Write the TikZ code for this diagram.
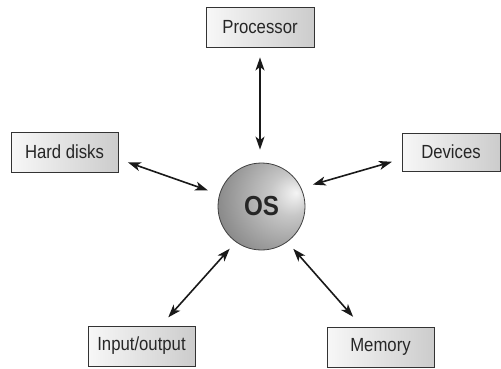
\documentclass[tikz,border=0pt]{standalone}
\usepackage{fontspec}
\setmainfont{Liberation Sans}[FakeStretch=0.88]
\usetikzlibrary{arrows.meta,calc}
\pgfdeclareradialshading{osball}{\pgfpoint{20bp}{8bp}}{%
  color(0bp)=(black!4);
  color(12bp)=(black!22);
  color(35bp)=(black!45);
  color(55bp)=(black!62);
  color(75bp)=(black!72)}
\begin{document}
\begin{tikzpicture}[x=1pt,y=1pt,
  box/.style={draw=black!80, line width=0.9pt, left color=black!3, right color=black!20,
    minimum width=107pt, minimum height=40pt, inner sep=0pt,
    font=\fontsize{19}{22}\selectfont, text=black!85},
  arr/.style={{Stealth[length=13pt,width=9pt,inset=3.5pt]}-{Stealth[length=13pt,width=9pt,inset=3.5pt]},
    line width=1.6pt, black!90}]
\useasboundingbox (0,0) rectangle (501,368);
\node[circle, draw=black!75, line width=0.8pt, shading=osball, minimum size=87pt, inner sep=0pt,
  font=\bfseries\fontsize{27.5}{30}\selectfont, text=black!85] (os) at (261.5,161.5) {OS};
\node[box, minimum width=108pt] (proc) at (260,341) {Processor};
\node[box] (hd) at (64.5,216) {Hard disks};
\node[box, minimum width=98pt, minimum height=38pt] (dev) at (451,216) {Devices};
\node[box] (io) at (141.5,22) {Input/output};
\node[box] (mem) at (380.5,21) {Memory};
\draw[arr, shorten <=10pt, shorten >=13pt] (proc.south) -- (proc.south |- os.north);
\draw[arr, shorten <=10pt, shorten >=12pt] ([yshift=-7pt]hd.east) -- (os.164);
\draw[arr, shorten <=10pt, shorten >=12pt] ([yshift=-7pt]dev.west) -- (os.25);
\draw[arr, shorten <=11pt, shorten >=9pt] ([xshift=19.4pt]io.north) -- (os.234);
\draw[arr, shorten <=13pt, shorten >=9pt] ([xshift=-18.8pt]mem.north) -- (os.306);
\end{tikzpicture}
\end{document}
